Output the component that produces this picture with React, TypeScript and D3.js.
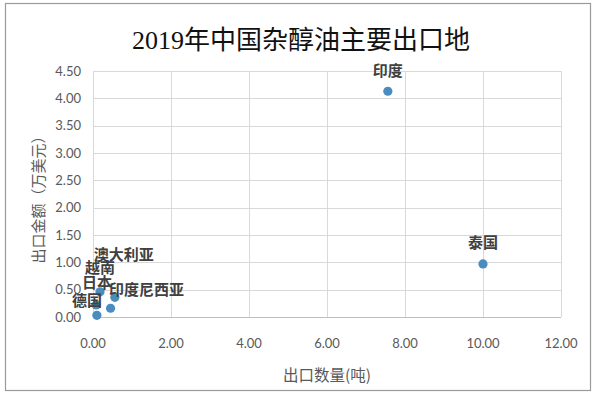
import React, { useEffect, useRef } from 'react';
import * as d3 from 'd3';

// 2019年中国杂醇油主要出口地
const countries = ['印度', '泰国', '澳大利亚', '越南', '日本', '印度尼西亚', '德国'];
const quantities = [7.56, 10.0, 0.56, 0.18, 0.08, 0.45, 0.1]; // 吨
const amounts = [4.13, 0.97, 0.36, 0.46, 0.22, 0.16, 0.03]; // 万美元
// label offset from its point (px)
const labelDx = [0, 0, 9, 0, 1, 36, -10];
const labelDy = [-21, -21, -43, -24, -22, -19, -15];

const xTicks = [0, 2, 4, 6, 8, 10, 12];
const yTicks = [0, 0.5, 1, 1.5, 2, 2.5, 3, 3.5, 4, 4.5];

const W = 600;
const H = 397;
const margin = { left: 93, right: 39, top: 71, bottom: 80 };

export default function App() {
  const ref = useRef<SVGSVGElement>(null);

  useEffect(() => {
    const svg = d3.select(ref.current);
    svg.selectAll('*').remove();

    const x = d3.scaleLinear().domain([0, 12]).range([margin.left, W - margin.right]);
    const y = d3.scaleLinear().domain([0, 4.5]).range([H - margin.bottom, margin.top]);
    const tickFont = 'Lato, "Liberation Sans", sans-serif';

    svg.append('rect')
      .attr('x', 0).attr('y', 0).attr('width', W).attr('height', H).attr('fill', '#ffffff');
    svg.append('rect')
      .attr('x', 5.5).attr('y', 3.5).attr('width', 585).attr('height', 387)
      .attr('fill', 'none').attr('stroke', '#9a9a9a').attr('stroke-width', 1.2);

    svg.append('text')
      .attr('x', 301).attr('y', 49)
      .attr('text-anchor', 'middle')
      .attr('font-family', '"Liberation Serif", "Noto Sans CJK SC", serif')
      .attr('font-size', 26)
      .attr('fill', '#111')
      .text('2019年中国杂醇油主要出口地');

    // gridlines
    svg.append('g').selectAll('line')
      .data(yTicks)
      .enter().append('line')
      .attr('x1', x(0)).attr('x2', x(12))
      .attr('y1', d => Math.round(y(d)) + 0.5).attr('y2', d => Math.round(y(d)) + 0.5)
      .attr('stroke', d => (d === 0 ? '#bfbfbf' : '#d9d9d9'))
      .attr('stroke-width', 1);
    svg.append('g').selectAll('line')
      .data(xTicks)
      .enter().append('line')
      .attr('y1', y(0)).attr('y2', y(4.5))
      .attr('x1', d => Math.round(x(d)) + 0.5).attr('x2', d => Math.round(x(d)) + 0.5)
      .attr('stroke', '#d9d9d9')
      .attr('stroke-width', 1);

    // tick labels
    svg.append('g').selectAll('text')
      .data(yTicks)
      .enter().append('text')
      .attr('x', x(0) - 12).attr('y', d => y(d) + 4.5)
      .attr('text-anchor', 'end')
      .attr('font-family', tickFont).attr('font-size', 13).attr('fill', '#595959')
      .text(d => d3.format('.2f')(d));
    svg.append('g').selectAll('text')
      .data(xTicks)
      .enter().append('text')
      .attr('x', d => x(d)).attr('y', y(0) + 31)
      .attr('text-anchor', 'middle')
      .attr('font-family', tickFont).attr('font-size', 13).attr('fill', '#595959')
      .text(d => d3.format('.2f')(d));

    // axis titles
    svg.append('text')
      .attr('x', 327).attr('y', 381)
      .attr('text-anchor', 'middle')
      .attr('font-family', '"Noto Sans CJK SC", sans-serif')
      .attr('font-size', 15.5).attr('fill', '#595959')
      .text('出口数量(吨)');
    svg.append('text')
      .attr('transform', 'translate(44,196) rotate(-90)')
      .attr('text-anchor', 'middle')
      .attr('font-family', '"Noto Sans CJK SC", sans-serif')
      .attr('font-size', 15).attr('fill', '#595959')
      .text('出口金额（万美元）');

    // points
    const idx = d3.range(countries.length);
    svg.append('g').selectAll('circle')
      .data(idx)
      .enter().append('circle')
      .attr('cx', i => x(quantities[i]))
      .attr('cy', i => y(amounts[i]))
      .attr('r', 4.6)
      .attr('fill', '#4a8cbe');

    // labels
    svg.append('g').selectAll('text')
      .data(idx)
      .enter().append('text')
      .attr('x', i => x(quantities[i]) + labelDx[i])
      .attr('y', i => y(amounts[i]) + labelDy[i] + 5.5)
      .attr('text-anchor', 'middle')
      .attr('font-family', '"Noto Sans CJK SC", sans-serif')
      .attr('font-size', 15).attr('font-weight', 'bold').attr('fill', '#404040')
      .text(i => countries[i]);
  }, []);

  return (
    <svg ref={ref} width={W} height={H}
      style={{ position: 'absolute', left: 0, top: 0, display: 'block' }} />
  );
}
